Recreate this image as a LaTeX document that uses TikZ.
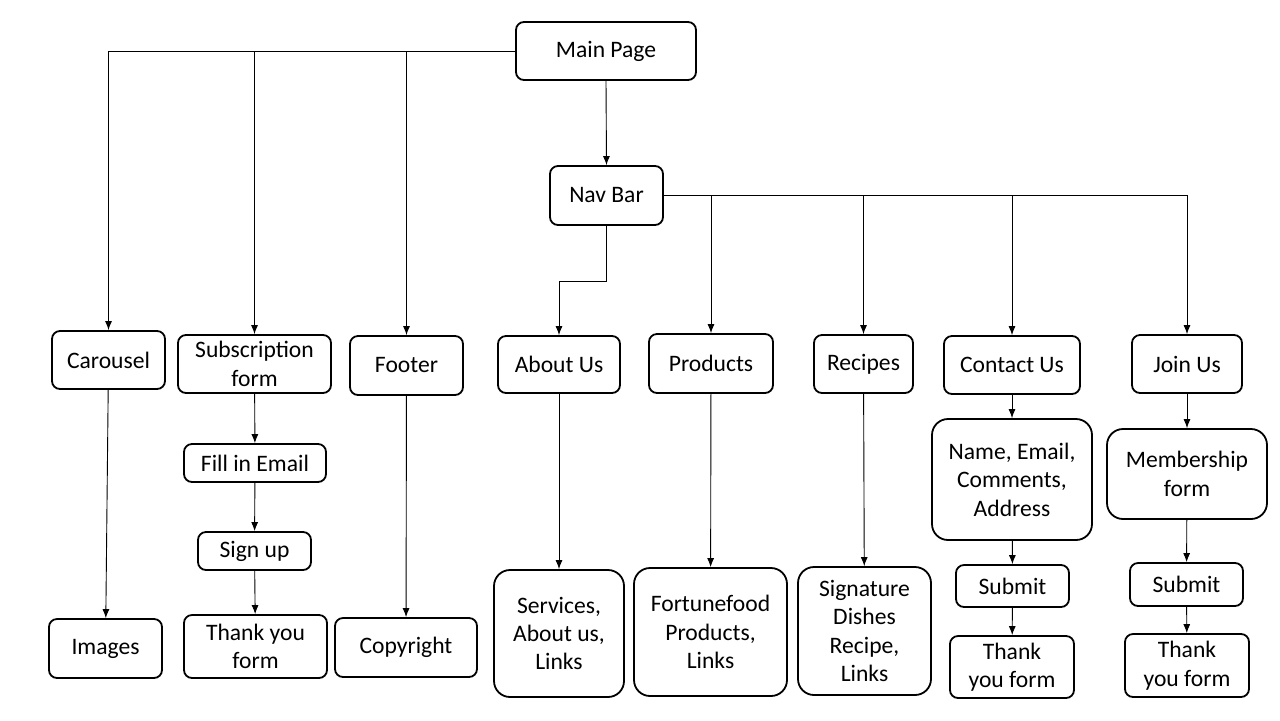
\documentclass[tikz,border=0pt]{standalone}
\usepackage{fontspec}
\setmainfont{Carlito}
\usetikzlibrary{positioning}
\usetikzlibrary{arrows.meta}
\tikzset{>={Latex[length=4.5pt,width=3.5pt]}}
\tikzset{box/.style={draw, rounded corners=4pt, line width=0.9pt, inner sep=0pt, align=center, font=\fontsize{11.8}{14.2}\selectfont}}
\tikzset{bigbox/.style={box, rounded corners=8pt}}
\tikzset{link/.style={->, line width=0.45pt}}

\begin{document}
\begin{tikzpicture}[x=0.5pt, y=-0.5pt]
        \useasboundingbox (0,0) rectangle (1280,720);

        % top levels
        \node[box, minimum width=90pt, minimum height=29pt] (main) at (606,51) {Main Page};
        \node[box, minimum width=56.5pt, minimum height=29.5pt] (nav) at (606.5,195.5) {Nav Bar};

        % second row
        \node[box, minimum width=56.5pt, minimum height=29pt] (carousel) at (108.5,360) {Carousel};
        \node[box, minimum width=76.5pt, minimum height=29pt] (subscr) at (254.5,364) {Subscription\\form};
        \node[box, minimum width=56.5pt, minimum height=29.5pt] (footer) at (406.5,365.5) {Footer};
        \node[box, minimum width=61pt, minimum height=28.5pt] (about) at (559,364.5) {About Us};
        \node[box, minimum width=62pt, minimum height=29.5pt] (products) at (711,363.5) {Products};
        \node[box, minimum width=49.5pt, minimum height=29pt] (recipes) at (863.5,364) {Recipes};
        \node[box, minimum width=68pt, minimum height=29pt] (contact) at (1012,365) {Contact Us};
        \node[box, minimum width=55pt, minimum height=29pt] (join) at (1187,364) {Join Us};

        % subscription chain
        \node[box, minimum width=71pt, minimum height=19pt] (email) at (255,463) {Fill in Email};
        \node[box, minimum width=56.5pt, minimum height=19pt] (signup) at (254.5,551) {Sign up};
        \node[box, minimum width=71.5pt, minimum height=31.5pt] (thanksub) at (255.5,646.5) {Thank you\\form};

        % bottom row
        \node[box, minimum width=56.5pt, minimum height=29.5pt] (images) at (105.5,648.5) {Images};
        \node[box, minimum width=71pt, minimum height=29.5pt] (copyright) at (406,647.5) {Copyright};
        \node[bigbox, minimum width=65pt, minimum height=63.5pt] (services) at (559,633.5) {Services,\\About us,\\Links};
        \node[bigbox, minimum width=76.5pt, minimum height=64pt] (fortune) at (710.5,632) {Fortunefood\\Products,\\Links};
        \node[bigbox, minimum width=66.5pt, minimum height=64pt] (signature) at (864.5,631) {Signature\\Dishes\\Recipe,\\Links};

        % contact chain
        \node[bigbox, minimum width=80pt, minimum height=60.5pt] (details) at (1012,479.5) {Name, Email,\\Comments,\\Address};
        \node[box, minimum width=56.5pt, minimum height=21pt] (submitc) at (1012.5,586) {Submit};
        \node[box, minimum width=62pt, minimum height=31pt] (thankc) at (1012,667) {Thank\\you form};

        % join chain
        \node[bigbox, minimum width=80pt, minimum height=45pt] (member) at (1187,474) {Membership\\form};
        \node[box, minimum width=56.5pt, minimum height=21.5pt] (submitj) at (1186.5,584.5) {Submit};
        \node[box, minimum width=62pt, minimum height=31.5pt] (thankj) at (1187,665.5) {Thank\\you form};

        \coordinate (navbend) at (606.5,281);

        % main page branches
        \draw[link] (main.west) -| (carousel.north);
        \draw[link] (subscr.north |- main.west) -- (subscr.north);
        \draw[link] (footer.north |- main.west) -- (footer.north);
        \draw[link] (main.south) -- (nav.north);

        % nav bar branches
        \draw[link] (nav.east) -| (join.north);
        \draw[link] (products.north |- nav.east) -- (products.north);
        \draw[link] (recipes.north |- nav.east) -- (recipes.north);
        \draw[link] (contact.north |- nav.east) -- (contact.north);
        \draw[link] (nav.south) -- (navbend) -| (about.north);

        % downward chains
        \draw[link] (carousel) -- (images);
        \draw[link] (subscr) -- (email);
        \draw[link] (email) -- (signup);
        \draw[link] (signup) -- (thanksub);
        \draw[link] (footer) -- (copyright);
        \draw[link] (about) -- (services);
        \draw[link] (products) -- (fortune);
        \draw[link] (recipes) -- (signature);
        \draw[link] (contact) -- (details);
        \draw[link] (details) -- (submitc);
        \draw[link] (submitc) -- (thankc);
        \draw[link] (join) -- (member);
        \draw[link] (member) -- (submitj);
        \draw[link] (submitj) -- (thankj);
    \end{tikzpicture}
\end{document}
